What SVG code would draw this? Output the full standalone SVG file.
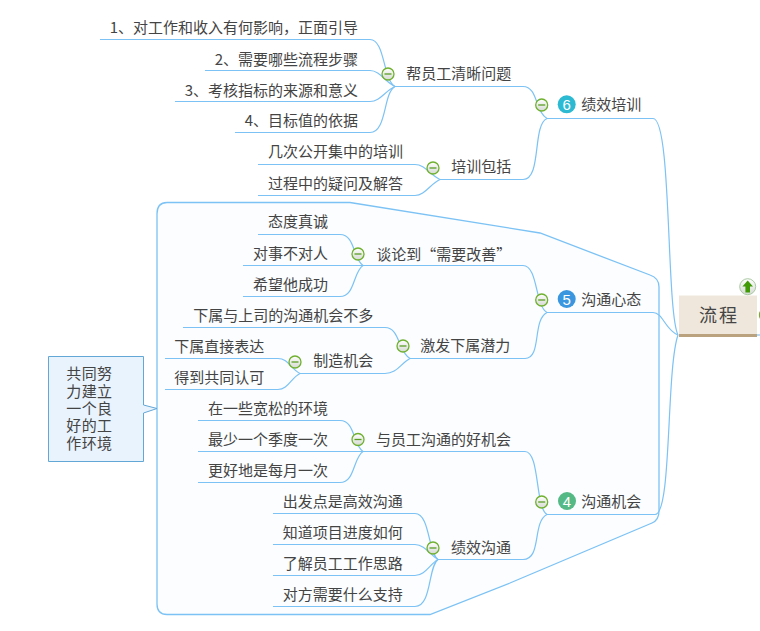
<svg xmlns="http://www.w3.org/2000/svg" width="760" height="631" viewBox="0 0 760 631" lang="zh-CN">
<style>
text{font-family:"Noto Sans CJK SC","Liberation Sans",sans-serif;font-size:15px;fill:#444}
.end{text-anchor:end}
.wire{fill:none;stroke:#7cc2f4;stroke-width:1.2}
.badge{stroke:none}
.num{font-family:"Liberation Sans",sans-serif;font-size:15px;fill:#fff;text-anchor:middle;font-weight:400}
</style>
<defs>
<linearGradient id="iconFill" x1="0" y1="0" x2="0" y2="1"><stop offset="0" stop-color="#ffffff"/><stop offset="1" stop-color="#d5d9d3"/></linearGradient>
<g id="minus"><circle r="6" fill="url(#iconFill)" stroke="#6fb02e" stroke-width="1.3"/><path d="M-3.5 0H3.5" stroke="#5a9e22" stroke-width="1.3"/></g>
</defs>

<g id="boundary">
<path d="M167 202.5H350L540 233L650 275Q659 278 659 287V511Q659 520 652 523L510 583L430 614.5H167Q157 614.5 157 604V214Q157 202.5 167 202.5Z" fill="#fbfdff" stroke="#7cc2f4" stroke-width="1.3"/>
</g>

<g id="connectors">
<path class="wire" d="M547 118.5H653C672 118.5 666 310 678 335"/>
<path class="wire" d="M547 312.5H653C663 312.5 665 330 678 335"/>
<path class="wire" d="M547 514.5H655C672 514.5 666 370 678 335"/>
<path class="wire" d="M757 335H760"/>
<path class="wire" d="M395 86.5H523C538 86.5 535 112 547 118.5"/>
<path class="wire" d="M440 179.5H523C542 179.5 532 125 547 118.5"/>
<path class="wire" d="M363 265.5H523C538 265.5 535 306 547 312.5"/>
<path class="wire" d="M410 358.5H525C542 358.5 532 320 547 312.5"/>
<path class="wire" d="M363 451.5H525C540 451.5 535 508 547 514.5"/>
<path class="wire" d="M438 559.5H523C542 559.5 532 522 547 514.5"/>
<path class="wire" d="M100 39.5H370C385 39.5 383 80 395 86.5"/>
<path class="wire" d="M205 70.5H370C380 70.5 385 82 395 86.5"/>
<path class="wire" d="M175 101.5H370C380 101.5 385 91 395 86.5"/>
<path class="wire" d="M235 132.5H370C387 132.5 383 93 395 86.5"/>
<path class="wire" d="M258 164.5H415C425 164.5 430 175 440 179.5"/>
<path class="wire" d="M258 195.5H415C425 195.5 430 184 440 179.5"/>
<path class="wire" d="M258 234.5H340C355 234.5 353 259 363 265.5"/>
<path class="wire" d="M243 265.5H363"/>
<path class="wire" d="M243 296.5H340C355 296.5 353 272 363 265.5"/>
<path class="wire" d="M183 327.5H385C400 327.5 398 352 410 358.5"/>
<path class="wire" d="M300 373.5H385C397 373.5 400 364 410 358.5"/>
<path class="wire" d="M165 358.5H278C288 358.5 291 369 300 373.5"/>
<path class="wire" d="M165 389.5H278C288 389.5 291 378 300 373.5"/>
<path class="wire" d="M198 420.5H340C355 420.5 353 445 363 451.5"/>
<path class="wire" d="M198 451.5H363"/>
<path class="wire" d="M198 482.5H340C355 482.5 353 458 363 451.5"/>
<path class="wire" d="M273 513.5H415C430 513.5 428 553 438 559.5"/>
<path class="wire" d="M273 544.5H415C425 544.5 430 555 438 559.5"/>
<path class="wire" d="M273 575.5H415C425 575.5 430 564 438 559.5"/>
<path class="wire" d="M273 606.5H415C432 606.5 428 566 438 559.5"/>
</g>

<g id="root">
<rect x="679" y="295.5" width="78" height="41.5" fill="#efe7dc"/>
<rect x="679" y="334" width="78" height="3" fill="#b9a27d"/>
<text x="699" y="322" style="font-size:18px;letter-spacing:2px">流程</text>
<circle cx="747.7" cy="286.7" r="8" fill="url(#iconFill)" stroke="#a9c8a0" stroke-width="1"/>
<path d="M747.7 280.5L753 286.5H750V292.5H745.4V286.5H742.4Z" fill="#3f9a06"/>
<circle cx="766" cy="315" r="6.5" fill="url(#iconFill)" stroke="#6fb02e" stroke-width="1.3"/>
</g>

<g id="n6"><use href="#minus" x="541.7" y="105"/><circle class="badge" cx="566.7" cy="104.3" r="9" fill="#2cb9d2"/><text class="num" x="566.7" y="109.8">6</text><text x="581.2" y="110">绩效培训</text></g>
<g id="n6a"><use href="#minus" x="388" y="74"/><text x="406.2" y="79">帮员工清晰问题</text></g>
<g id="n6a1"><text class="end" x="358" y="33">1、对工作和收入有何影响，正面引导</text></g>
<g id="n6a2"><text class="end" x="358" y="64.5">2、需要哪些流程步骤</text></g>
<g id="n6a3"><text class="end" x="358" y="95.5">3、考核指标的来源和意义</text></g>
<g id="n6a4"><text class="end" x="358" y="126">4、目标值的依据</text></g>
<g id="n6b"><use href="#minus" x="433" y="168"/><text x="451.2" y="172">培训包括</text></g>
<g id="n6b1"><text x="267.9" y="156.5">几次公开集中的培训</text></g>
<g id="n6b2"><text x="267.9" y="188.5">过程中的疑问及解答</text></g>

<g id="n5"><use href="#minus" x="541.7" y="300"/><circle class="badge" cx="566.7" cy="299" r="9" fill="#3a96de"/><text class="num" x="566.7" y="304.5">5</text><text x="581.2" y="305">沟通心态</text></g>
<g id="n5a"><use href="#minus" x="358" y="254"/><text x="376.2" y="259.5">谈论到“需要改善”</text></g>
<g id="n5a1"><text x="267.9" y="227">态度真诚</text></g>
<g id="n5a2"><text x="252.9" y="259">对事不对人</text></g>
<g id="n5a3"><text x="252.9" y="289.5">希望他成功</text></g>
<g id="n5b"><use href="#minus" x="403" y="346"/><text x="420.2" y="351">激发下属潜力</text></g>
<g id="n5b1"><text x="193.2" y="320.5">下属与上司的沟通机会不多</text></g>
<g id="n5b2"><use href="#minus" x="295" y="362"/><text x="313.2" y="366">制造机会</text></g>
<g id="n5b2a"><text x="174.2" y="352">下属直接表达</text></g>
<g id="n5b2b"><text x="174.2" y="383">得到共同认可</text></g>

<g id="n4"><use href="#minus" x="541.7" y="502"/><circle class="badge" cx="567" cy="501" r="9" fill="#55b985"/><text class="num" x="567" y="506.5">4</text><text x="581.2" y="507">沟通机会</text></g>
<g id="n4a"><use href="#minus" x="358" y="439.5"/><text x="375.9" y="444.5">与员工沟通的好机会</text></g>
<g id="n4a1"><text x="207.9" y="413.5">在一些宽松的环境</text></g>
<g id="n4a2"><text x="207.9" y="444.5">最少一个季度一次</text></g>
<g id="n4a3"><text x="207.9" y="475.5">更好地是每月一次</text></g>
<g id="n4b"><use href="#minus" x="433" y="548"/><text x="450.9" y="553">绩效沟通</text></g>
<g id="n4b1"><text x="282.7" y="506.5">出发点是高效沟通</text></g>
<g id="n4b2"><text x="282.7" y="537.5">知道项目进度如何</text></g>
<g id="n4b3"><text x="282.7" y="568.5">了解员工工作思路</text></g>
<g id="n4b4"><text x="282.7" y="600">对方需要什么支持</text></g>

<g id="callout">
<path d="M48.5 356.5H143.5V405L157 408.5L143.5 413V461.5H48.5Z" fill="#e9f3fd" stroke="#62a7d6" stroke-width="1"/>
<text x="66.3" y="378.5" style="letter-spacing:.4px"><tspan x="66.3" y="378.5">共同努</tspan><tspan x="66.3" y="396.5">力建立</tspan><tspan x="66.3" y="413.5">一个良</tspan><tspan x="66.3" y="431">好的工</tspan><tspan x="66.3" y="448.5">作环境</tspan></text>
</g>
</svg>
